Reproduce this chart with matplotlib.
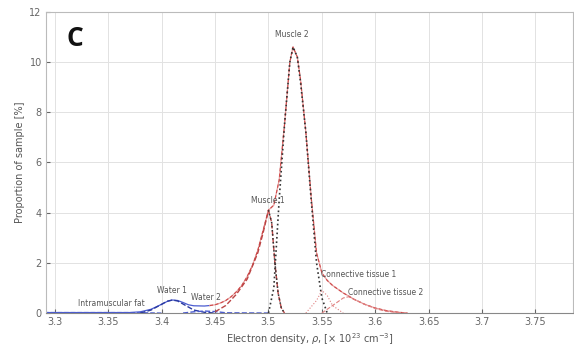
import numpy as np
import matplotlib
matplotlib.use("Agg")
import matplotlib.pyplot as plt

# values
# measured distribution, low-density part (blue) and the rest (pink)
meas_lo_x = [3.29, 3.37, 3.38, 3.39, 3.40, 3.405, 3.41, 3.415, 3.42, 3.425, 3.43, 3.44, 3.445]
meas_lo_y = [0.02, 0.02, 0.05, 0.15, 0.35, 0.46, 0.52, 0.50, 0.42, 0.33, 0.29, 0.28, 0.30]
meas_hi_x = [3.445, 3.45, 3.455, 3.46, 3.465, 3.47, 3.475, 3.48, 3.485, 3.49, 3.495, 3.50,
             3.505, 3.51, 3.515, 3.52, 3.523, 3.527, 3.53, 3.535, 3.54, 3.545, 3.55,
             3.555, 3.56, 3.565, 3.57, 3.575, 3.58, 3.59, 3.60, 3.61, 3.62, 3.63]
meas_hi_y = [0.30, 0.33, 0.40, 0.50, 0.65, 0.85, 1.10, 1.45, 1.90, 2.50, 3.30, 4.10,
             4.30, 5.30, 7.50, 10.0, 10.6, 10.2, 9.3, 7.2, 4.6, 2.4, 1.6,
             1.3, 1.1, 0.95, 0.80, 0.68, 0.55, 0.35, 0.20, 0.10, 0.04, 0.0]

# fitted components
fat_x = [3.29, 3.33, 3.37, 3.385, 3.40]
fat_y = [0.02, 0.02, 0.02, 0.01, 0.0]
water1_x = [3.38, 3.39, 3.40, 3.405, 3.41, 3.415, 3.42, 3.43, 3.44, 3.45]
water1_y = [0.0, 0.12, 0.35, 0.47, 0.52, 0.48, 0.36, 0.12, 0.03, 0.0]
water2_x = [3.42, 3.43, 3.44, 3.45, 3.46, 3.50]
water2_y = [0.0, 0.05, 0.08, 0.06, 0.01, 0.0]
muscle1_x = [3.45, 3.46, 3.47, 3.48, 3.49, 3.495, 3.50, 3.503, 3.506, 3.509, 3.512, 3.515]
muscle1_y = [0.05, 0.3, 0.75, 1.35, 2.4, 3.2, 4.1, 3.6, 2.0, 0.8, 0.2, 0.0]
muscle2_x = [3.50, 3.505, 3.51, 3.515, 3.52, 3.523, 3.527, 3.53, 3.535, 3.54, 3.545, 3.55, 3.555]
muscle2_y = [0.0, 1.0, 4.5, 7.5, 10.0, 10.6, 10.2, 9.2, 7.2, 4.5, 2.0, 0.6, 0.0]
conn1_x = [3.535, 3.545, 3.55, 3.555, 3.56, 3.57]
conn1_y = [0.0, 0.5, 0.9, 0.7, 0.3, 0.0]
conn2_x = [3.55, 3.56, 3.57, 3.575, 3.58, 3.59, 3.60, 3.61, 3.62, 3.63]
conn2_y = [0.0, 0.3, 0.6, 0.65, 0.55, 0.35, 0.18, 0.07, 0.02, 0.0]

xticks = [3.3, 3.35, 3.4, 3.45, 3.5, 3.55, 3.6, 3.65, 3.7, 3.75]
yticks = [0, 2, 4, 6, 8, 10, 12]

fig = plt.figure(figsize=(5.74, 3.49), dpi=100)
ax = fig.add_axes([0.080, 0.103, 0.918, 0.863])

ax.plot(meas_lo_x, meas_lo_y, color="#4a5bd0", lw=0.9)
ax.plot(meas_hi_x, meas_hi_y, color="#e6a3a3", lw=0.9)
ax.plot(meas_hi_x, meas_hi_y, color="#d04848", lw=0.8, ls=(0, (3, 2)))

ax.plot(fat_x, fat_y, color="#4a5bd0", lw=0.9, ls="--")
ax.plot(water1_x, water1_y, color="#2a3aa0", lw=1.0, ls="--")
ax.plot(water2_x, water2_y, color="#4a5bd0", lw=1.0, ls="--")
ax.plot(muscle1_x, muscle1_y, color="#b44", lw=1.0, ls="--")
ax.plot(muscle1_x[6:], muscle1_y[6:], color="#333", lw=1.1, ls=":")
ax.plot(muscle2_x, muscle2_y, color="#333", lw=1.2, ls=":")
ax.plot(conn1_x, conn1_y, color="#e08080", lw=0.8, ls=":")
ax.plot(conn2_x, conn2_y, color="#e08080", lw=0.8, ls="--")

lab = dict(fontsize=5.5, color="#555")
ax.text(3.322, 0.2, "Intramuscular fat", ha="left", va="bottom", **lab)
ax.text(3.41, 0.7, "Water 1", ha="center", va="bottom", **lab)
ax.text(3.441, 0.45, "Water 2", ha="center", va="bottom", **lab)
ax.text(3.499, 4.3, "Muscle 1", ha="center", va="bottom", **lab)
ax.text(3.522, 10.9, "Muscle 2", ha="center", va="bottom", **lab)
ax.text(3.549, 1.35, "Connective tissue 1", ha="left", va="bottom", **lab)
ax.text(3.574, 0.65, "Connective tissue 2", ha="left", va="bottom", **lab)

ax.text(0.040, 0.955, "C", transform=ax.transAxes, fontsize=19, fontweight="bold",
        family="Open Sans", ha="left", va="top", color="#111")

ax.set_xlim(3.2916, 3.785)
ax.set_ylim(0, 12)
ax.set_xticks(xticks)
ax.set_xticklabels([f"{t:g}" for t in xticks])
ax.set_yticks(yticks)
ax.grid(True, color="#e2e2e2", lw=0.7)
ax.set_axisbelow(True)
ax.tick_params(direction="in", length=3, labelsize=7, colors="#666", pad=3)
for s in ["top", "right", "left"]:
    ax.spines[s].set_color("#bbbbbb")
ax.spines["bottom"].set_color("#888888")

ax.set_xlabel(r"Electron density, $\rho$, [$\times$ 10$^{23}$ cm$^{-3}$]", fontsize=7, color="#555", labelpad=3)
ax.set_ylabel("Proportion of sample [%]", fontsize=7, color="#555", labelpad=3)

fig.savefig("out.png", dpi=100)
